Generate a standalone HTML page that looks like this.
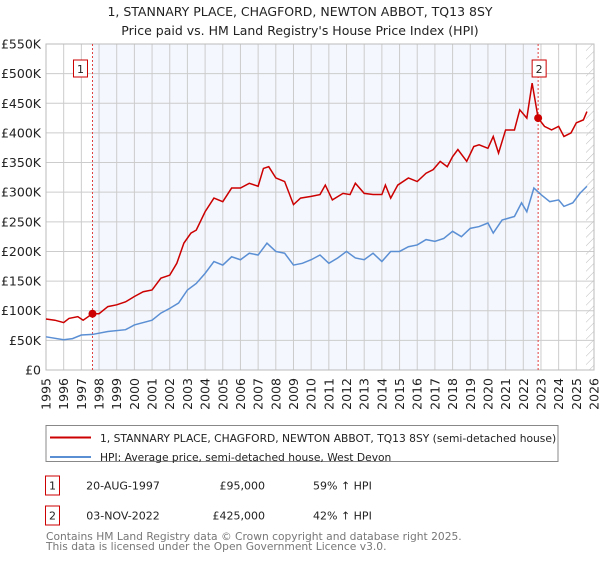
<!DOCTYPE html>
<html><head><meta charset="utf-8"><style>
body{margin:0;background:#fff;font-family:"DejaVu Sans","Liberation Sans",sans-serif;}
svg text{font-family:"DejaVu Sans","Liberation Sans",sans-serif;}
</style></head><body>
<svg id="c" width="600" height="560" xmlns="http://www.w3.org/2000/svg"></svg>
<script>
const redYears=[1995,1995.5,1996,1996.3,1996.8,1997.1,1997.63,1998,1998.5,1999,1999.5,2000,2000.5,2001,2001.5,2002,2002.4,2002.8,2003.2,2003.5,2004,2004.5,2005,2005.5,2006,2006.5,2007,2007.3,2007.6,2008,2008.5,2009,2009.4,2010,2010.5,2010.8,2011.2,2011.8,2012.2,2012.5,2013,2013.5,2014,2014.2,2014.5,2014.9,2015.5,2016,2016.5,2016.9,2017.3,2017.7,2018,2018.3,2018.8,2019.2,2019.5,2020,2020.3,2020.6,2021,2021.5,2021.8,2022.2,2022.5,2022.84,2023.2,2023.6,2024,2024.3,2024.7,2025,2025.4,2025.6];
const redVals=[86,84,80,87,90,84,95,95,107,110,115,124,132,135,155,160,180,214,231,236,267,290,284,307,307,315,310,340,343,324,318,279,290,293,296,312,287,298,296,315,298,296,296,312,290,312,324,318,332,338,352,343,360,372,352,377,380,374,394,366,405,405,439,425,484,425,411,405,411,394,400,417,422,436];
const hpiYears=[1995,1996,1996.5,1997,1997.63,1998.5,1999.5,2000,2001,2001.5,2002,2002.5,2003,2003.5,2004,2004.5,2005,2005.5,2006,2006.5,2007,2007.5,2008,2008.5,2009,2009.5,2010,2010.5,2011,2011.5,2012,2012.5,2013,2013.5,2014,2014.5,2015,2015.5,2016,2016.5,2017,2017.5,2018,2018.5,2019,2019.5,2020,2020.3,2020.8,2021.5,2021.9,2022.2,2022.6,2023,2023.5,2024,2024.3,2024.8,2025.2,2025.6];
const hpiVals=[56,51,53,59,60,65,68,76,84,96,104,113,135,146,163,183,177,191,186,197,194,214,200,197,177,180,186,194,180,189,200,189,186,197,183,200,200,208,211,220,217,222,234,225,239,242,248,231,253,259,282,267,307,296,284,287,276,282,298,310];
const saleYears=[1997.63,2022.84];
const saleVals=[95,425];
const saleLabels=["1","2"];
const yTicks=[0,50,100,150,200,250,300,350,400,450,500,550];
const xTicks=[1995,1996,1997,1998,1999,2000,2001,2002,2003,2004,2005,2006,2007,2008,2009,2010,2011,2012,2013,2014,2015,2016,2017,2018,2019,2020,2021,2022,2023,2024,2025,2026];

const NS="http://www.w3.org/2000/svg";
const svg=document.getElementById('c');
const L=46,R=594,T=44,B=370;
const X=y=>L+(y-1995)/31*(R-L);
const Y=v=>B-v/550*(B-T);
function el(tag,attrs,parent){const e=document.createElementNS(NS,tag);for(const k in attrs)e.setAttribute(k,attrs[k]);(parent||svg).appendChild(e);return e;}
function txt(s,attrs){const e=el('text',attrs);e.textContent=s;return e;}

let t=txt("1, STANNARY PLACE, CHAGFORD, NEWTON ABBOT, TQ13 8SY",{x:300,y:16,'text-anchor':'middle','font-size':12.5,fill:'#222'});

t=txt("Price paid vs. HM Land Registry's House Price Index (HPI)",{x:300,y:35,'text-anchor':'middle','font-size':12.5,fill:'#222'});


let r=el('rect',{x:X(saleYears[0]),y:T,width:X(saleYears[1])-X(saleYears[0]),height:B-T,fill:'#f4f7fd'});

const defs=el('defs',{});
const pat=el('pattern',{id:'h',width:6,height:6,patternUnits:'userSpaceOnUse',patternTransform:'rotate(45)'},defs);
el('line',{x1:0,y1:0,x2:0,y2:6,stroke:'#bbb','stroke-width':1},pat);
r=el('rect',{x:X(2025.55),y:T,width:R-X(2025.55),height:B-T,fill:'url(#h)'});


const grid=el('g',{stroke:'#ccc','stroke-width':1});

yTicks.forEach(v=>{el('line',{x1:L,x2:R,y1:Y(v),y2:Y(v)},grid);
 const tt=txt('£'+(v?v+'K':'0'),{x:L-5,y:Y(v)+4.5,'text-anchor':'end','font-size':12.5,fill:'#222'});
 });
xTicks.forEach(y=>{el('line',{x1:X(y),x2:X(y),y1:T,y2:B},grid);
 const tt=txt(String(y),{transform:`translate(${X(y)+4.5},${B+8}) rotate(-90)`,'text-anchor':'end','font-size':12.5,fill:'#222'});
 });
el('rect',{x:L,y:T,width:R-L,height:B-T,fill:'none',stroke:'#bbb'});

saleYears.forEach((y,i)=>{
 const ln=el('line',{x1:X(y),x2:X(y),y1:T,y2:B,stroke:'#e04040','stroke-dasharray':'2,2','stroke-width':1});
 
 const g=el('g',{});
 
 el('rect',{x:X(y)-(i?6:19),y:60,width:14,height:17,fill:'#fff',stroke:'#cc0000'},g);
 const tt=el('text',{x:X(y)-(i?-1:12),y:73,'text-anchor':'middle','font-size':11,fill:'#222'},g);tt.textContent=saleLabels[i];
});

function line(xs,vs,col,name){const p=el('polyline',{points:xs.map((x,i)=>X(x)+','+Y(vs[i])).join(' '),fill:'none',stroke:col,'stroke-width':1.5});
 }
line(hpiYears,hpiVals,'#5b8fd4','hpi-line');
line(redYears,redVals,'#cc0000','price-paid-line');
saleYears.forEach((y,i)=>{const c=el('circle',{cx:X(y),cy:Y(saleVals[i]),r:4,fill:'#cc0000'});
 });

const lg=el('g',{});
el('rect',{x:46,y:425.5,width:512,height:36,fill:'#fff',stroke:'#888'},lg);
el('line',{x1:50,x2:91,y1:437.5,y2:437.5,stroke:'#cc0000','stroke-width':2},lg);
el('line',{x1:50,x2:91,y1:457,y2:457,stroke:'#5b8fd4','stroke-width':2},lg);
let e=el('text',{x:100,y:442,'font-size':10.7,fill:'#222'},lg);e.textContent='1, STANNARY PLACE, CHAGFORD, NEWTON ABBOT, TQ13 8SY (semi-detached house)';

e=el('text',{x:100,y:461,'font-size':10.7,fill:'#222'},lg);e.textContent='HPI: Average price, semi-detached house, West Devon';


const rows=[["1","20-AUG-1997","£95,000","59% ↑ HPI",485.5],["2","03-NOV-2022","£425,000","42% ↑ HPI",515.5]];
rows.forEach(rw=>{const g=el('g',{});
 el('rect',{x:45.5,y:rw[4]-9.5,width:14,height:19,fill:'#fff',stroke:'#cc0000'},g);
 let a=el('text',{x:52.5,y:rw[4]+4,'text-anchor':'middle','font-size':11,fill:'#222'},g);a.textContent=rw[0];
 a=el('text',{x:123,y:rw[4]+4,'text-anchor':'middle','font-size':11,fill:'#222'},g);a.textContent=rw[1];
 a=el('text',{x:265,y:rw[4]+4,'text-anchor':'end','font-size':11,fill:'#222'},g);a.textContent=rw[2];
 a=el('text',{x:313,y:rw[4]+4,'font-size':11,fill:'#222'},g);a.textContent=rw[3];});
e=txt('Contains HM Land Registry data © Crown copyright and database right 2025.',{x:46,y:540,'font-size':10.7,fill:'#777'});

e=txt('This data is licensed under the Open Government Licence v3.0.',{x:46,y:550,'font-size':10.7,fill:'#777'});

</script>
</body></html>
